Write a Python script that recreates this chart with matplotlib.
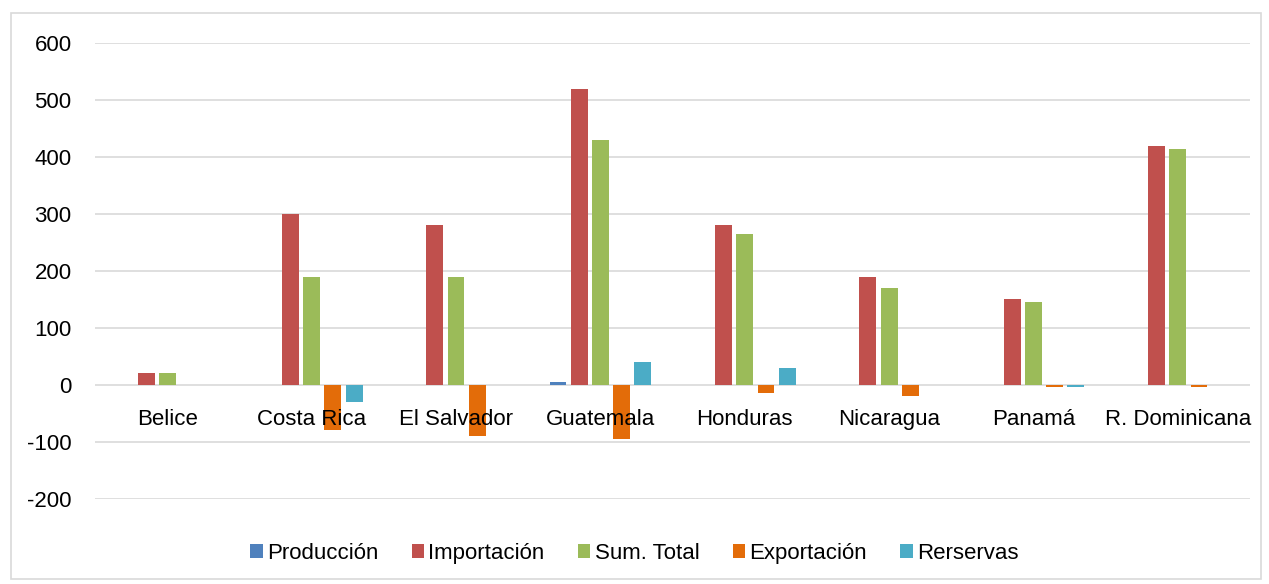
import numpy as np
import matplotlib.pyplot as plt
from matplotlib.patches import Rectangle

plt.rcParams['font.family'] = ['Liberation Sans', 'DejaVu Sans']
plt.rcParams['axes.unicode_minus'] = False

paises = ['Belice', 'Costa Rica', 'El Salvador', 'Guatemala', 'Honduras',
          'Nicaragua', 'Panamá', 'R. Dominicana']
series = ['Producción', 'Importación', 'Sum. Total', 'Exportación', 'Rerservas']
produccion = [0, 0, 0, 5, 0, 0, 0, 0]
importacion = [20, 300, 280, 520, 280, 190, 150, 420]
sum_total = [20, 190, 190, 430, 265, 170, 145, 415]
exportacion = [0, -80, -90, -95, -15, -20, -4, -4]
reservas = [0, -30, 0, 40, 30, 0, -4, 0]
colores = ['#4f81bd', '#c0504d', '#9bbb59', '#e36c09', '#4bacc6']

fig = plt.figure(figsize=(12.69, 5.84), dpi=100)
fig.patches.append(Rectangle((0.009, 0.008), 0.985, 0.97, transform=fig.transFigure,
                             fill=False, edgecolor='#d9d9d9', linewidth=1.2))
ax = fig.add_axes([0.075, 0.146, 0.910, 0.780])

x = np.arange(len(paises))
paso = 0.147
ancho = 0.117
datos = [produccion, importacion, sum_total, exportacion, reservas]
for i, (nombre, vals, c) in enumerate(zip(series, datos, colores)):
    ax.bar(x + (i - 2) * paso, vals, ancho, color=c, label=nombre, zorder=3)

ax.set_xlim(-0.5, len(paises) - 0.5)
ax.set_ylim(-200, 600)
ax.set_yticks(range(-200, 601, 100))
ax.yaxis.grid(True, color='#d9d9d9', linewidth=1.2, zorder=0)
ax.set_axisbelow(True)
for s in ['top', 'right', 'left', 'bottom']:
    ax.spines[s].set_visible(False)
ax.tick_params(axis='y', length=0, labelsize=16, pad=17)
ax.set_xticks([])
for xi, p in zip(x, paises):
    ax.text(xi, -42, p, ha='center', va='top', fontsize=16)

fig.legend(loc='lower center', bbox_to_anchor=(0.5, 0.0), ncol=5, frameon=False,
           fontsize=16, handlelength=0.55, handleheight=0.55, handletextpad=0.2,
           columnspacing=1.5)

fig.savefig('out.png', dpi=100)
